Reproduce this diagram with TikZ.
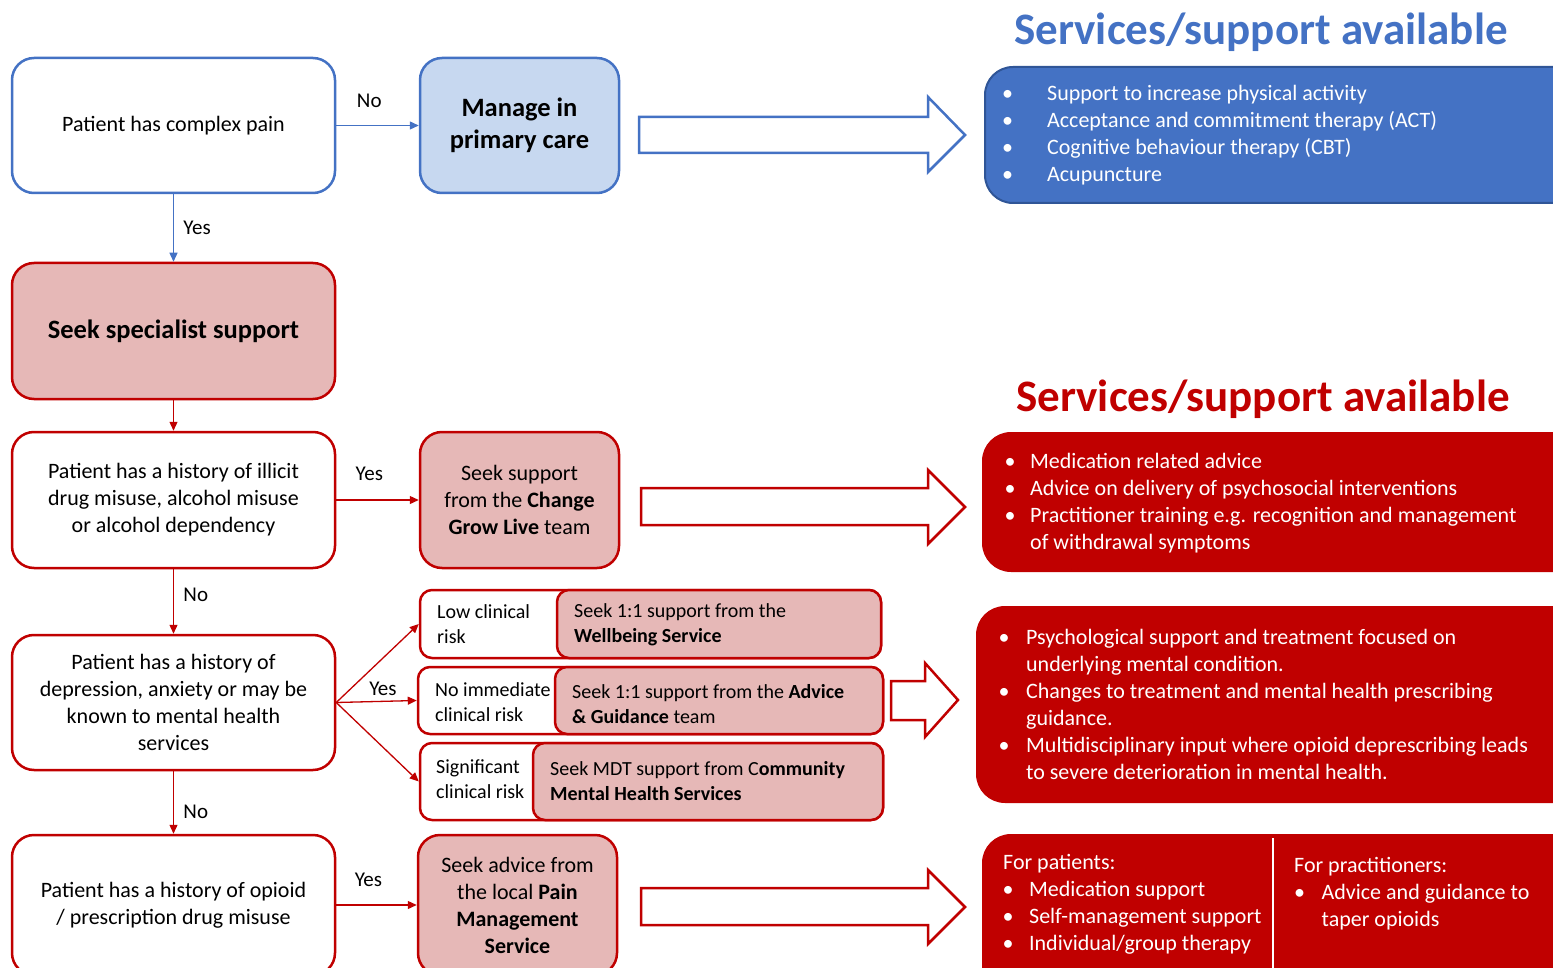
\documentclass[tikz,border=0pt]{standalone}
\usepackage{fontspec}
\setmainfont{Carlito}
\usetikzlibrary{arrows.meta}
\definecolor{cblue}{HTML}{4472C4}
\definecolor{cbluedark}{HTML}{2F5597}
\definecolor{clight}{HTML}{C7D8F0}
\definecolor{cred}{HTML}{C00000}
\definecolor{cpink}{HTML}{E6B8B7}
\newcommand\fsz[2]{\fontsize{#1}{#2}\selectfont}
\begin{document}
\begin{tikzpicture}[x=1pt,y=-1pt,
  box/.style={rounded corners=22pt, line width=2.5pt, align=center, inner sep=4pt, font=\fsz{22}{27}},
  qblue/.style={box, draw=cblue, fill=white},
  pblue/.style={box, draw=cblue, fill=clight, font=\fsz{26.5}{32}\bfseries},
  qred/.style={box, draw=cred, fill=white},
  pred/.style={box, draw=cred, fill=cpink},
  risk/.style={draw=cred, fill=white, line width=2.5pt, rounded corners=12pt},
  riskp/.style={draw=cred, fill=cpink, line width=2.5pt, rounded corners=12pt},
  rtext/.style={anchor=west, align=left, inner sep=0pt, font=\fsz{20}{25}},
  conn/.style={-{Triangle[length=9pt,width=8pt]}, line width=1.3pt},
  lbl/.style={font=\fsz{21}{25}, text=black},
  blockarrow/.style={line width=2.5pt, fill=white, line join=miter},
  svcbox/.style={rounded corners=28pt, line width=2pt},
  svc/.style={anchor=north west, inner sep=0pt, text=white, font=\fsz{22}{27}},
  title/.style={font=\fsz{45}{54}\bfseries},
]
\useasboundingbox (0,0) rectangle (1553,968);
\clip (0,0) rectangle (1553,968);

% left column
\node[qblue, minimum width=323pt, minimum height=135pt] (b1) at (173.5,125.5) {Patient has complex pain};
\node[pblue, minimum width=199pt, minimum height=135pt] (b2) at (519.5,125.5) {Manage in\\primary care};
\node[pred, minimum width=323pt, minimum height=136pt, font=\fsz{26.5}{32}\bfseries] (b3) at (173.5,331) {Seek specialist support};
\node[qred, minimum width=323pt, minimum height=136pt] (b4) at (173.5,500) {Patient has a history of illicit\\drug misuse, alcohol misuse\\or alcohol dependency};
\node[pred, minimum width=199pt, minimum height=136pt] (b5) at (519.5,500) {Seek support\\from the \textbf{Change}\\\textbf{Grow Live} team};
\node[qred, minimum width=323pt, minimum height=135pt] (b6) at (173.5,702.5) {Patient has a history of\\depression, anxiety or may be\\known to mental health\\services};
\node[qred, minimum width=323pt, minimum height=140pt] (b7) at (173.5,905) {Patient has a history of opioid\\/ prescription drug misuse};
\node[pred, minimum width=199pt, minimum height=140pt] (b8) at (517.5,905) {Seek advice from\\the local \textbf{Pain}\\\textbf{Management}\\\textbf{Service}};

% risk boxes
\node[risk, minimum width=461pt, minimum height=68pt] (r1) at (650.5,624) {};
\node[riskp, minimum width=324pt, minimum height=68pt] (p1) at (719,624) {};
\node[rtext] (r1t) at (437,624) {Low clinical\\risk};
\node[rtext] (p1t) at (574,625) {Seek 1:1 support from the\\\textbf{Wellbeing Service}};

\node[risk, minimum width=465pt, minimum height=67pt] (r2) at (650.5,700.5) {};
\node[riskp, minimum width=328pt, minimum height=67pt] (p2) at (719,700.5) {};
\node[rtext] (r2t) at (435,702) {No immediate\\clinical risk};
\node[rtext] (p2t) at (572,704) {Seek 1:1 support from the \textbf{Advice}\\\textbf{\& Guidance} team};

\node[risk, minimum width=463pt, minimum height=77pt] (r3) at (651.5,781.5) {};
\node[riskp, minimum width=350pt, minimum height=77pt] (p3) at (708,781.5) {};
\node[rtext] (r3t) at (436,779) {Significant\\clinical risk};
\node[rtext] (p3t) at (550,781) {Seek MDT support from C\textbf{ommunity}\\\textbf{Mental Health Services}};

% connectors
\draw[conn, cblue] (b1.east) -- node[lbl, above=14pt, pos=0.4] {No} (b2.west);
\draw[conn, cblue] (b1.south) -- node[lbl, right=6pt, pos=0.5] {Yes} (b3.north);
\draw[conn, cred] (b3.south) -- (b4.north);
\draw[conn, cred] (b4.east) -- node[lbl, above=15pt, pos=0.4] {Yes} (b5.west);
\draw[conn, cred] (b4.south) -- node[lbl, right=6pt, pos=0.4] {No} (b6.north);
\draw[conn, cred] (b6.east) -- (r1.west);
\draw[conn, cred] (b6.east) -- node[lbl, above=2pt, pos=0.58] {Yes} (r2.west);
\draw[conn, cred] (b6.east) -- (r3.west);
\draw[conn, cred] (b6.south) -- node[lbl, right=6pt, pos=0.65] {No} (b7.north);
\draw[conn, cred] (b7.east) -- node[lbl, above=14pt, pos=0.4] {Yes} (b8.west);

% block arrows
\draw[blockarrow, draw=cblue] (639,117) -- (928,117) -- (928,97) -- (965,135) -- (928,172) -- (928,153) -- (639,153) -- cycle;
\draw[blockarrow, draw=cred] (641,488) -- (928,488) -- (928,470) -- (965,507) -- (928,544) -- (928,525) -- (641,525) -- cycle;
\draw[blockarrow, draw=cred] (891,681) -- (925,681) -- (925,663) -- (958,700) -- (925,737) -- (925,720) -- (891,720) -- cycle;
\draw[blockarrow, draw=cred] (641,888) -- (928,888) -- (928,870) -- (965,907) -- (928,944) -- (928,925) -- (641,925) -- cycle;

% titles
\node[title, text=cblue] (h1) at (1261,32) {Services/support available};
\node[title, text=cred] (h2) at (1263,399) {Services/support available};

% service boxes
\draw[svcbox, draw=cbluedark, fill=cblue] (985,67) rectangle (1600,203);
\node[svc] (s1) at (1002,81) {\begin{tabular}{@{}l@{\hspace{34pt}}l@{}}
•&Support to increase physical activity\\
•&Acceptance and commitment therapy (ACT)\\
•&Cognitive behaviour therapy (CBT)\\
•&Acupuncture
\end{tabular}};

\draw[svcbox, draw=cred, fill=cred] (983,433) rectangle (1600,571);
\node[svc] (s2) at (1004.5,449) {\begin{tabular}{@{}l@{\hspace{14.5pt}}l@{}}
•&Medication related advice\\
•&Advice on delivery of psychosocial interventions\\
•&Practitioner training e.g. recognition and management\\
&of withdrawal symptoms
\end{tabular}};

\draw[svcbox, draw=cred, fill=cred] (977,607) rectangle (1600,802);
\node[svc] (s3) at (998.5,625) {\begin{tabular}{@{}l@{\hspace{16.5pt}}l@{}}
•&Psychological support and treatment focused on\\
&underlying mental condition.\\
•&Changes to treatment and mental health prescribing\\
&guidance.\\
•&Multidisciplinary input where opioid deprescribing leads\\
&to severe deterioration in mental health.
\end{tabular}};

\draw[svcbox, draw=cred, fill=cred] (983,835) rectangle (1600,1000);
\draw[white, line width=2.5pt] (1273,838) -- (1273,1000);
\node[svc] (s4) at (1003,850) {\begin{tabular}{@{\hspace{0pt}}l@{\hspace{15.5pt}}l@{}}
\multicolumn{2}{@{}l@{}}{For patients:}\\
\hspace{-0.5pt}•&Medication support\\
\hspace{-0.5pt}•&Self-management support\\
\hspace{-0.5pt}•&Individual/group therapy
\end{tabular}};
\node[svc] (s5) at (1294,853) {\begin{tabular}{@{}l@{\hspace{16.5pt}}l@{}}
\multicolumn{2}{@{}l@{}}{For practitioners:}\\
•&Advice and guidance to\\
&taper opioids
\end{tabular}};
\end{tikzpicture}
\end{document}
